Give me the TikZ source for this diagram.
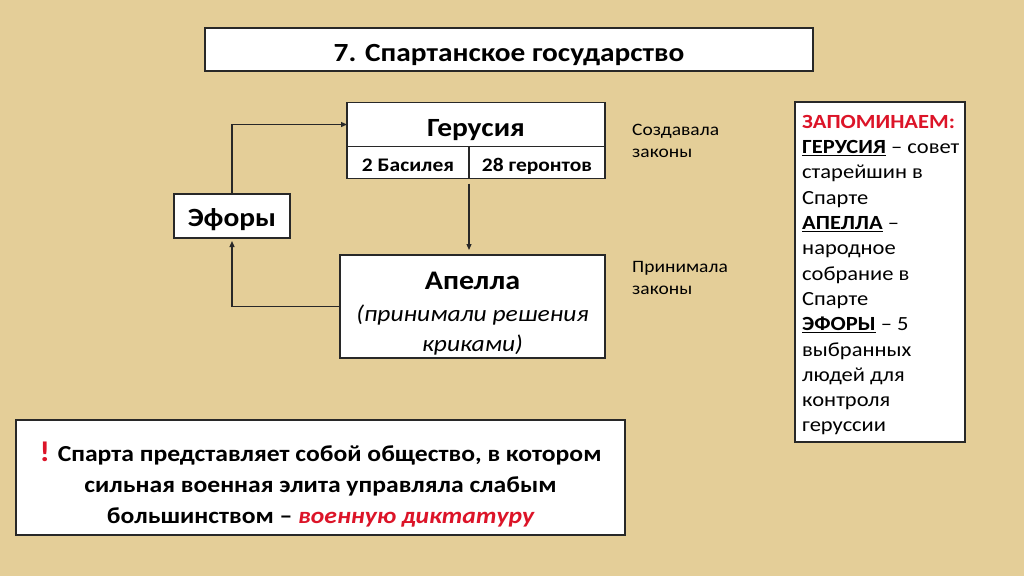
\documentclass[tikz,border=0pt]{standalone}
\usepackage{fontspec}
\setmainfont{Carlito}[FakeStretch=1.12]
\usetikzlibrary{arrows.meta}
\definecolor{papyrus}{RGB}{228,206,152}
\definecolor{redtxt}{RGB}{220,20,40}
\definecolor{boxline}{RGB}{40,40,40}
\tikzset{
  wbox/.style={draw=boxline, line width=1.2pt, fill=white, inner sep=0pt, outer sep=0pt, text depth=0pt},
  arr/.style={draw=boxline, line width=1.2pt, -{Triangle[length=6pt,width=5pt]}},
  side/.style={anchor=base west, inner sep=0pt, font=\fontsize{17.4}{23}\selectfont}
}
\begin{document}
\begin{tikzpicture}[x=1pt,y=-1pt]
\fill[papyrus] (0,0) rectangle (1024,576);
\useasboundingbox (0,0) rectangle (1024,576);
% title
\node[wbox, text height=24.4pt, minimum width=608pt, minimum height=43pt, font=\fontsize{26.2}{30}\selectfont\bfseries] (title) at (509,49.5) {7. Спартанское государство};
% Gerusia
\node[wbox, text height=23pt, minimum width=258pt, minimum height=44pt, font=\fontsize{26.3}{30}\selectfont\bfseries] (ger) at (476,124.5) {Герусия};
\node[wbox, text height=17pt, minimum width=122pt, minimum height=32pt, font=\fontsize{19.2}{22}\selectfont\bfseries] (gl) at (408,162.5) {2 Басилея};
\node[wbox, text height=17pt, minimum width=136pt, minimum height=32pt, font=\fontsize{19.2}{22}\selectfont\bfseries] (gr) at (537,162.5) {28 геронтов};
% Efory
\node[wbox, text height=21.4pt, minimum width=116pt, minimum height=44pt, font=\fontsize{26.3}{30}\selectfont\bfseries] (ef) at (232,216) {Эфоры};
% Apella
\node[wbox, minimum width=265pt, minimum height=103pt] (ap) at (472.5,306.5) {};
\node[anchor=base, font=\fontsize{26.8}{30}\selectfont\bfseries, inner sep=0pt] (apt) at (472.5,289) {Апелла};
\node[anchor=base, font=\fontsize{22.8}{30}\selectfont\itshape, align=center, inner sep=0pt] (aps) at (472.5,351.7) {(принимали решения\\криками)};
% connectors
\draw[arr] (ef.north) |- (ger.west);
\draw[arr] ([yshift=-5pt]gl.south east) -- ([yshift=5pt]ap.north -| gl.south east);
\draw[arr] (ap.west) -| ([yshift=-3pt]ef.south);
% side labels
\node[side] (s1a) at (632,135) {Создавала};
\node[side] (s1b) at (632,157) {законы};
\node[side] (s2a) at (632,272) {Принимала};
\node[side] (s2b) at (632,294) {законы};
% right box
\node[wbox, minimum width=170pt, minimum height=340pt] (rb) at (880,272) {};
\node[anchor=base west, align=left, inner sep=0pt, font=\fontsize{20.1}{25.3}\selectfont] (rbt) at (802,431.9)
{\textcolor{redtxt}{\bfseries ЗАПОМИНАЕМ:}\\
\underline{\bfseries ГЕРУСИЯ} – совет\\
старейшин в\\
Спарте\\
\underline{\bfseries АПЕЛЛА} –\\
народное\\
собрание в\\
Спарте\\
\underline{\bfseries ЭФОРЫ} – 5\\
выбранных\\
людей для\\
контроля\\
геруссии};
% bottom box
\node[wbox, minimum width=609pt, minimum height=115pt] (bb) at (320.5,477.5) {};
\node[anchor=base, align=center, inner sep=0pt, font=\fontsize{22.9}{30.8}\selectfont\bfseries] (bbt) at (320.5,523.3)
{\textcolor{redtxt}{\fontsize{28.6}{28}\selectfont !} Спарта представляет собой общество, в котором\\
сильная военная элита управляла слабым\\
большинством – \textcolor{redtxt}{\itshape военную диктатуру}};
\end{tikzpicture}
\end{document}
